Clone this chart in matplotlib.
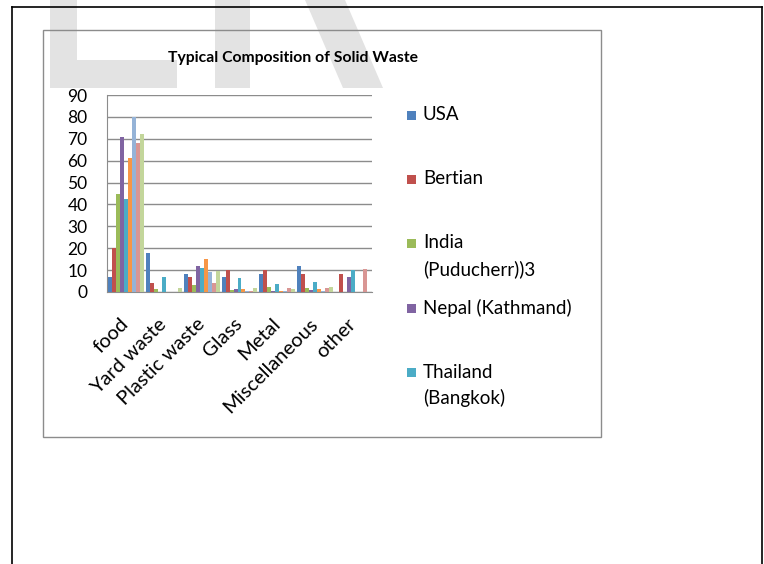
import matplotlib
matplotlib.use("Agg")
import matplotlib.pyplot as plt
import numpy as np
from matplotlib.patches import Rectangle, Polygon
from matplotlib.lines import Line2D

plt.rcParams["font.family"] = ["Lato", "DejaVu Sans"]

# ── data ──
categories = ["food", "Yard waste", "Plastic waste", "Glass", "Metal",
              "Miscellaneous", "other"]
series_names = ["USA", "Bertian", "India\n(Puducherr))3", "Nepal (Kathmand)",
                "Thailand\n(Bangkok)", "Series 6", "Series 7", "Series 8", "Series 9"]
usa       = [7, 18, 8, 7, 8, 12, 0]
bertian   = [20, 4, 7, 10, 10, 8, 8]
india     = [45, 1.5, 3, 1, 2.4, 2, 0]
nepal     = [71, 0, 12, 1.5, 0.5, 1, 6.7]
thailand  = [42.5, 7, 11, 6.5, 3.7, 4.6, 10]
series6   = [61, 0, 15, 1.2, 0.3, 1.4, 0]
series7   = [80, 0, 9, 0.5, 0.6, 0.3, 0]
series8   = [68, 0, 4, 0.6, 2, 2, 10.4]
series9   = [72, 2, 9.7, 1.7, 1.2, 2.5, 0]
values = [usa, bertian, india, nepal, thailand, series6, series7, series8, series9]
colors = ["#4F81BD", "#C0504D", "#9BBB59", "#8064A2", "#4BACC6",
          "#F79646", "#95B3D7", "#D99694", "#C3D69B"]
n_legend = 5   # the legend in the picture is cut off after five entries

W, H = 764, 564
fig = plt.figure(figsize=(W / 100, H / 100), dpi=100)
fig.patch.set_facecolor("white")


def fx(x):
    return x / W


def fy(y):
    return 1 - y / H


# ── watermark and page frame ──
GRAY_WM = "#E3E3E3"
for pts in [
    [(50, 0), (77, 0), (77, 60), (177, 60), (177, 88), (50, 88)],
    [(215, 0), (250, 0), (250, 88), (215, 88)],
    [(305, 0), (345, 0), (383, 88), (343, 88)],
]:
    fig.patches.append(Polygon([(fx(a), fy(b)) for a, b in pts], closed=True,
                               transform=fig.transFigure, facecolor=GRAY_WM,
                               edgecolor="none", zorder=0))

for xs, ys in [((12, 12), (7, H)), ((12, 762), (7, 7)), ((762, 762), (7, H))]:
    fig.add_artist(Line2D([fx(v) for v in xs], [fy(v) for v in ys],
                          transform=fig.transFigure, color="black", lw=1.2))

# chart area border
fig.patches.append(Rectangle((fx(43), fy(437)), fx(601) - fx(43), fy(30) - fy(437),
                             transform=fig.transFigure, facecolor="none",
                             edgecolor="#8C8C8C", lw=1, zorder=1))

# ── plot area ──
ax = fig.add_axes([fx(107), fy(292), fx(372) - fx(107), fy(95) - fy(292)])
ax.set_facecolor("none")
x = np.arange(len(categories))
n = len(values)
w = 0.95 / n
for i, (vals, col) in enumerate(zip(values, colors)):
    ax.bar(x + (i - (n - 1) / 2) * w, vals, width=w, color=col,
           edgecolor="none", zorder=3)

ax.set_xlim(-0.5, len(categories) - 0.5)
ax.set_ylim(0, 90)
ax.set_yticks(range(0, 91, 10))
ax.yaxis.grid(True, color="#8C8C8C", lw=1, zorder=0)
ax.set_axisbelow(True)
for s in ["top", "right"]:
    ax.spines[s].set_visible(False)
for s in ["left", "bottom"]:
    ax.spines[s].set_color("#8C8C8C")
ax.tick_params(axis="y", length=0, pad=14, labelsize=12.5)
ax.tick_params(axis="x", length=0, pad=21)
ax.set_xticks(x)
ax.set_xticklabels(categories, rotation=45, ha="right", va="center",
                   rotation_mode="anchor", fontsize=14.5)

# title
fig.text(fx(293), fy(58), "Typical Composition of Solid Waste", ha="center",
         va="center", fontsize=11.3, fontweight="bold")

# legend (manual, like the clipped Excel legend)
legend_y = [115, 179, 243, 308, 372]
for name, col, ly in zip(series_names[:n_legend], colors[:n_legend], legend_y):
    fig.patches.append(Rectangle((fx(407), fy(ly + 4.5)), fx(9), fx(9) * W / H,
                                 transform=fig.transFigure, facecolor=col,
                                 edgecolor="none"))
    for k, line in enumerate(name.split("\n")):
        fig.text(fx(423), fy(ly + k * 26), line, ha="left", va="center",
                 fontsize=13.5)

fig.savefig("out.png", dpi=100, facecolor="white")
